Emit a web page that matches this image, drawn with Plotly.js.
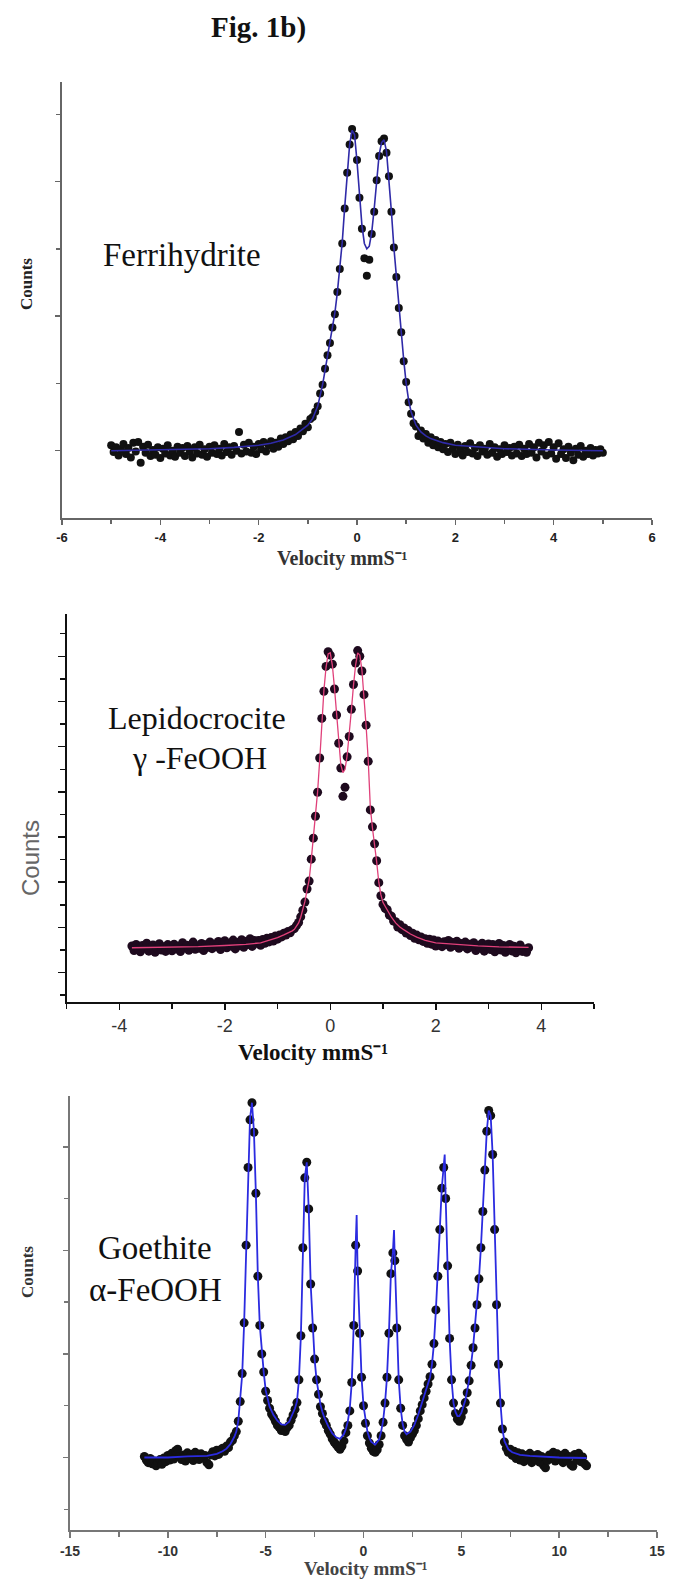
<!DOCTYPE html>
<html>
<head>
<meta charset="utf-8">
<script src="https://cdn.plot.ly/plotly-3.0.1.min.js"></script>
<style>
html,body{margin:0;padding:0;background:#fff;}
#chart{width:673px;height:1580px;}
</style>
</head>
<body>
<div id="chart"></div>
<script>
// ---------------- Panel 1: Ferrihydrite ----------------
const velocity1 = [
-5.00,-4.95,-4.90,-4.85,-4.80,-4.75,-4.70,-4.65,-4.60,-4.55,-4.50,-4.45,-4.40,-4.35,-4.30,-4.25,-4.20,-4.15,-4.10,-4.05,
-4.00,-3.95,-3.90,-3.85,-3.80,-3.75,-3.70,-3.65,-3.60,-3.55,-3.50,-3.45,-3.40,-3.35,-3.30,-3.25,-3.20,-3.15,-3.10,-3.05,
-3.00,-2.95,-2.90,-2.85,-2.80,-2.75,-2.70,-2.65,-2.60,-2.55,-2.50,-2.45,-2.40,-2.35,-2.30,-2.25,-2.20,-2.15,-2.10,-2.05,
-2.00,-1.95,-1.90,-1.85,-1.80,-1.75,-1.70,-1.65,-1.60,-1.55,-1.50,-1.45,-1.40,-1.35,-1.30,-1.25,-1.20,-1.15,-1.10,-1.05,
-1.00,-0.95,-0.90,-0.85,-0.80,-0.75,-0.70,-0.65,-0.60,-0.55,-0.50,-0.45,-0.40,-0.35,-0.30,-0.25,-0.20,-0.15,-0.10,-0.05,
0.00,0.05,0.10,0.15,0.20,0.25,0.30,0.35,0.40,0.45,0.50,0.55,0.60,0.65,0.70,0.75,0.80,0.85,0.90,0.95,
1.00,1.05,1.10,1.15,1.20,1.25,1.30,1.35,1.40,1.45,1.50,1.55,1.60,1.65,1.70,1.75,1.80,1.85,1.90,1.95,
2.00,2.05,2.10,2.15,2.20,2.25,2.30,2.35,2.40,2.45,2.50,2.55,2.60,2.65,2.70,2.75,2.80,2.85,2.90,2.95,
3.00,3.05,3.10,3.15,3.20,3.25,3.30,3.35,3.40,3.45,3.50,3.55,3.60,3.65,3.70,3.75,3.80,3.85,3.90,3.95,
4.00,4.05,4.10,4.15,4.20,4.25,4.30,4.35,4.40,4.45,4.50,4.55,4.60,4.65,4.70,4.75,4.80,4.85,4.90,4.95,
5.00];
const counts1 = [
1.08,0.98,1.05,0.93,1.02,1.10,0.95,1.04,0.90,1.12,0.99,1.13,0.82,1.06,0.97,1.09,0.92,1.01,0.94,1.05,
0.89,1.03,0.96,1.08,0.93,1.00,0.91,1.06,0.97,1.04,0.92,1.07,0.99,0.90,1.05,0.96,1.09,0.94,1.02,0.91,
1.06,0.97,1.08,0.95,1.03,0.93,1.10,0.98,1.05,0.94,1.07,1.00,1.28,0.96,1.09,0.99,1.12,0.97,1.06,0.95,
1.10,1.02,1.13,0.99,1.08,1.14,1.03,1.12,1.06,1.18,1.10,1.20,1.14,1.24,1.17,1.28,1.22,1.33,1.29,1.40,
1.35,1.47,1.50,1.58,1.66,1.85,1.98,2.22,2.42,2.60,2.83,3.03,3.36,3.70,4.08,4.60,5.13,5.55,5.78,5.68,
5.32,4.76,4.30,3.86,3.60,3.84,4.22,4.55,5.02,5.38,5.60,5.64,5.43,5.08,4.55,4.02,3.58,3.12,2.76,2.33,
2.02,1.72,1.55,1.41,1.36,1.22,1.30,1.18,1.25,1.12,1.20,1.08,1.16,1.05,1.13,1.02,1.10,0.98,1.12,1.03,
0.95,1.09,1.01,0.93,1.07,0.98,1.11,0.96,1.04,0.92,1.08,0.99,1.03,0.94,1.10,0.97,1.05,0.91,1.02,0.95,
1.08,0.98,1.04,0.93,1.06,0.96,1.09,0.92,1.03,0.95,1.10,0.97,1.05,0.90,1.12,0.99,1.08,0.93,1.13,0.96,
1.05,0.88,1.11,0.95,1.02,0.89,1.06,0.97,0.86,1.03,0.94,1.07,0.91,1.00,0.95,1.04,0.93,1.01,0.96,1.02,
0.97];
const fitVelocity1 = [-5.0,-4.0,-3.0,-2.5,-2.0,-1.75,-1.5,-1.25,-1.0,-0.9,
-0.8,-0.7,-0.6,-0.5,-0.45,-0.4,-0.35,-0.3,-0.25,-0.2,
-0.15,-0.1,-0.05,0.0,0.05,0.1,0.15,0.2,0.25,0.3,
0.35,0.4,0.45,0.5,0.55,0.6,0.65,0.7,0.75,0.8,
0.85,0.9,0.95,1.0,1.05,1.1,1.2,1.3,1.4,1.5,
1.75,2.0,2.5,3.0,4.0,5.0];
const fit1 = [1.00,1.01,1.03,1.05,1.08,1.11,1.16,1.24,1.38,1.48,
1.66,1.98,2.40,2.82,3.05,3.35,3.70,4.10,4.62,5.15,
5.55,5.76,5.70,5.30,4.80,4.35,4.08,4.00,4.04,4.25,
4.60,5.05,5.40,5.58,5.62,5.45,5.05,4.55,4.02,3.58,
3.15,2.78,2.35,2.00,1.75,1.58,1.38,1.28,1.22,1.18,
1.12,1.08,1.05,1.03,1.01,1.00];

// ---------------- Panel 2: Lepidocrocite ----------------
const velocity2 = [
-3.76,-3.72,-3.68,-3.64,-3.60,-3.56,-3.52,-3.48,-3.44,-3.40,-3.36,-3.32,-3.28,-3.24,-3.20,-3.16,-3.12,-3.08,-3.04,-3.00,
-2.96,-2.92,-2.88,-2.84,-2.80,-2.76,-2.72,-2.68,-2.64,-2.60,-2.56,-2.52,-2.48,-2.44,-2.40,-2.36,-2.32,-2.28,-2.24,-2.20,
-2.16,-2.12,-2.08,-2.04,-2.00,-1.96,-1.92,-1.88,-1.84,-1.80,-1.76,-1.72,-1.68,-1.64,-1.60,-1.56,-1.52,-1.48,-1.44,-1.40,
-1.36,-1.32,-1.28,-1.24,-1.20,-1.16,-1.12,-1.08,-1.04,-1.00,-0.96,-0.92,-0.88,-0.84,-0.80,-0.76,-0.72,-0.68,-0.64,-0.60,
-0.56,-0.52,-0.48,-0.44,-0.40,-0.36,-0.32,-0.28,-0.24,-0.20,-0.16,-0.12,-0.08,-0.04,0.00,0.04,0.08,0.12,0.16,0.20,
0.24,0.28,0.32,0.36,0.40,0.44,0.48,0.52,0.56,0.60,0.64,0.68,0.72,0.76,0.80,0.84,0.88,0.92,0.96,1.00,
1.04,1.08,1.12,1.16,1.20,1.24,1.28,1.32,1.36,1.40,1.44,1.48,1.52,1.56,1.60,1.64,1.68,1.72,1.76,1.80,
1.84,1.88,1.92,1.96,2.00,2.04,2.08,2.12,2.16,2.20,2.24,2.28,2.32,2.36,2.40,2.44,2.48,2.52,2.56,2.60,
2.64,2.68,2.72,2.76,2.80,2.84,2.88,2.92,2.96,3.00,3.04,3.08,3.12,3.16,3.20,3.24,3.28,3.32,3.36,3.40,
3.44,3.48,3.52,3.56,3.60,3.64,3.68,3.72,3.76];
const counts2 = [
2.18,1.98,2.25,2.04,1.92,2.20,2.08,2.30,1.95,2.12,2.22,1.90,2.06,2.28,2.00,2.15,1.94,2.24,2.10,1.97,
2.26,2.05,2.17,1.93,2.32,2.09,2.21,1.99,2.14,2.35,2.03,2.19,2.08,2.29,1.98,2.23,2.12,2.36,2.06,2.27,
2.15,2.38,2.02,2.25,2.41,2.10,2.30,2.18,2.44,2.05,2.33,2.20,2.46,2.12,2.38,2.25,2.50,2.16,2.42,2.30,
2.42,2.21,2.47,2.30,2.52,2.36,2.55,2.40,2.62,2.48,2.66,2.58,2.74,2.66,2.82,2.76,2.90,2.95,3.08,3.22,
3.47,3.76,4.12,4.70,5.05,6.02,6.95,7.92,8.98,10.50,12.25,13.45,14.55,15.20,15.05,14.65,13.55,12.40,11.15,10.05,
8.80,9.20,10.55,11.45,12.65,13.75,14.70,15.25,15.00,14.35,13.30,11.95,10.35,8.20,7.45,6.70,5.95,4.98,4.40,4.02,
3.85,3.78,3.55,3.50,3.28,3.25,3.02,3.12,2.90,2.98,2.75,2.86,2.64,2.74,2.52,2.66,2.45,2.58,2.38,2.50,
2.30,2.48,2.26,2.44,2.18,2.40,2.31,2.15,2.37,2.24,2.42,2.12,2.33,2.20,2.39,2.08,2.29,2.17,2.35,2.05,
2.26,2.13,2.32,1.98,2.21,2.09,2.30,1.95,2.18,2.27,2.02,2.24,1.92,2.15,2.29,2.00,2.20,1.90,2.12,2.25,
1.96,2.17,1.88,2.08,2.22,1.94,2.05,1.90,2.10];
const fitVelocity2 = [-3.76,-3.0,-2.5,-2.0,-1.6,-1.32,-1.2,-1.0,-0.88,-0.8,
-0.72,-0.68,-0.64,-0.6,-0.56,-0.52,-0.48,-0.44,-0.4,-0.36,
-0.32,-0.28,-0.24,-0.2,-0.16,-0.12,-0.08,-0.04,0.0,0.04,
0.08,0.12,0.16,0.2,0.24,0.28,0.32,0.36,0.4,0.44,
0.48,0.52,0.56,0.6,0.64,0.68,0.72,0.76,0.8,0.84,
0.88,0.92,0.96,1.0,1.08,1.16,1.24,1.32,1.4,1.52,
1.64,1.8,2.0,2.4,2.8,3.2,3.76];
const fit2 = [2.10,2.12,2.15,2.20,2.25,2.32,2.40,2.55,2.67,2.75,
2.85,2.92,3.05,3.20,3.45,3.75,4.15,4.65,5.10,6.00,
6.90,7.90,9.00,10.40,12.20,13.50,14.50,15.10,15.15,14.60,
13.60,12.40,11.20,10.20,9.85,10.00,10.60,11.50,12.60,13.70,
14.60,15.15,15.05,14.40,13.30,11.90,10.40,8.30,7.40,6.75,
5.90,5.00,4.45,4.10,3.75,3.45,3.20,3.02,2.89,2.71,
2.57,2.43,2.32,2.24,2.18,2.14,2.12];

// ---------------- Panel 3: Goethite ----------------
const velocity3 = [
-11.2,-11.1,-11.0,-10.9,-10.8,-10.7,-10.6,-10.5,-10.4,-10.3,-10.2,-10.1,-10.0,-9.9,-9.8,-9.7,-9.6,-9.5,-9.4,-9.3,
-9.2,-9.1,-9.0,-8.9,-8.8,-8.7,-8.6,-8.5,-8.4,-8.3,-8.2,-8.1,-8.0,-7.9,-7.8,-7.7,-7.6,-7.5,-7.4,-7.3,
-7.2,-7.1,-7.0,-6.9,-6.8,-6.7,-6.6,-6.5,-6.4,-6.3,-6.2,-6.1,-6.0,-5.9,-5.8,-5.7,-5.6,-5.5,-5.4,-5.3,
-5.2,-5.1,-5.0,-4.9,-4.8,-4.7,-4.6,-4.5,-4.4,-4.3,-4.2,-4.1,-4.0,-3.9,-3.8,-3.7,-3.6,-3.5,-3.4,-3.3,
-3.2,-3.1,-3.0,-2.9,-2.8,-2.7,-2.6,-2.5,-2.4,-2.3,-2.2,-2.1,-2.0,-1.9,-1.8,-1.7,-1.6,-1.5,-1.4,-1.3,
-1.2,-1.1,-1.0,-0.9,-0.8,-0.7,-0.6,-0.5,-0.4,-0.3,-0.2,-0.1,0.0,0.1,0.2,0.3,0.4,0.5,0.6,0.7,
0.8,0.9,1.0,1.1,1.2,1.3,1.4,1.5,1.6,1.7,1.8,1.9,2.0,2.1,2.2,2.3,2.4,2.5,2.6,2.7,
2.8,2.9,3.0,3.1,3.2,3.3,3.4,3.5,3.6,3.7,3.8,3.9,4.0,4.1,4.2,4.3,4.4,4.5,4.6,4.7,
4.8,4.9,5.0,5.1,5.2,5.3,5.4,5.5,5.6,5.7,5.8,5.9,6.0,6.1,6.2,6.3,6.4,6.5,6.6,6.7,
6.8,6.9,7.0,7.1,7.2,7.3,7.4,7.5,7.6,7.7,7.8,7.9,8.0,8.1,8.2,8.3,8.4,8.5,8.6,8.7,
8.8,8.9,9.0,9.1,9.2,9.3,9.4,9.5,9.6,9.7,9.8,9.9,10.0,10.1,10.2,10.3,10.4,10.5,10.6,10.7,
10.8,10.9,11.0,11.1,11.2,11.3,11.4];
const counts3 = [
1.02,0.95,0.90,0.98,0.88,0.93,0.84,0.91,0.96,0.87,0.99,0.92,1.04,0.95,1.08,0.97,1.13,1.16,1.02,0.96,
1.05,0.93,1.09,0.98,1.06,0.94,1.10,1.01,0.96,1.07,0.99,1.04,0.90,0.86,1.05,1.11,1.03,1.14,1.06,1.15,
1.18,1.12,1.22,1.19,1.30,1.33,1.42,1.50,1.70,2.08,2.62,3.60,5.10,6.60,7.52,7.85,7.28,6.10,4.50,3.55,
3.00,2.65,2.28,2.10,1.95,1.84,1.78,1.70,1.62,1.58,1.52,1.55,1.50,1.58,1.62,1.72,1.82,1.93,2.06,2.50,
3.35,5.05,6.40,6.70,5.80,4.35,3.50,2.90,2.50,2.22,1.98,1.85,1.70,1.62,1.52,1.45,1.36,1.30,1.25,1.20,
1.16,1.22,1.32,1.48,1.62,1.90,2.45,3.55,5.10,4.60,3.40,2.55,2.00,1.66,1.42,1.28,1.18,1.12,1.10,1.15,
1.25,1.42,1.68,2.05,2.55,3.40,4.55,4.95,4.80,3.50,2.50,1.95,1.62,1.42,1.35,1.30,1.38,1.45,1.52,1.62,
1.75,1.90,2.02,2.15,2.28,2.42,2.56,2.80,3.20,3.85,4.50,5.40,6.20,6.60,6.00,4.70,3.30,2.50,2.05,1.85,
1.74,1.70,1.78,1.90,2.06,2.25,2.48,2.78,3.12,3.50,3.95,4.45,5.05,5.75,6.55,7.30,7.70,7.60,6.85,5.40,
3.95,2.80,2.05,1.55,1.30,1.18,1.10,1.16,1.04,1.12,0.98,1.09,0.95,1.07,0.92,1.04,0.97,1.08,0.90,1.03,
0.96,1.06,0.91,1.02,0.85,0.80,0.94,1.05,0.98,1.10,0.93,1.07,0.96,1.04,0.90,1.08,0.94,1.02,0.86,0.83,
1.06,0.95,1.08,0.92,1.01,0.88,0.84];
const fitVelocity3 = [
-11.2,-10.0,-9.0,-8.0,-7.5,-7.2,-7.0,-6.8,-6.6,-6.5,
-6.4,-6.3,-6.2,-6.1,-6.0,-5.9,-5.8,-5.7,-5.6,-5.5,
-5.4,-5.3,-5.2,-5.1,-5.0,-4.9,-4.8,-4.6,-4.4,-4.2,
-4.0,-3.8,-3.6,-3.5,-3.4,-3.3,-3.2,-3.1,-3.0,-2.9,
-2.8,-2.7,-2.6,-2.5,-2.4,-2.3,-2.2,-2.1,-2.0,-1.8,
-1.6,-1.4,-1.2,-1.0,-0.9,-0.8,-0.7,-0.6,-0.5,-0.4,
-0.35,-0.3,-0.2,-0.1,0.0,0.1,0.2,0.3,0.4,0.6,
0.8,0.9,1.0,1.1,1.2,1.3,1.4,1.5,1.56,1.6,
1.7,1.8,1.9,2.0,2.1,2.2,2.4,2.6,2.8,3.0,
3.2,3.4,3.5,3.6,3.7,3.8,3.9,4.0,4.1,4.15,
4.2,4.3,4.4,4.5,4.6,4.7,4.8,4.9,5.0,5.2,
5.4,5.6,5.8,5.9,6.0,6.1,6.2,6.3,6.4,6.5,
6.6,6.7,6.8,6.9,7.0,7.1,7.2,7.4,7.6,8.0,
8.5,9.0,10.0,11.4];
const fit3 = [
1.00,1.00,1.02,1.03,1.07,1.12,1.17,1.26,1.40,1.50,
1.70,2.10,2.60,3.60,5.10,6.60,7.55,7.85,7.30,6.10,
4.50,3.55,3.00,2.65,2.30,2.12,1.98,1.82,1.71,1.64,
1.63,1.69,1.86,1.95,2.08,2.50,3.35,5.05,6.40,6.70,
5.80,4.35,3.50,2.90,2.50,2.25,2.02,1.88,1.77,1.60,
1.47,1.39,1.36,1.45,1.55,1.70,1.95,2.45,3.55,5.10,
5.68,4.60,3.40,2.55,2.00,1.70,1.50,1.38,1.30,1.25,
1.35,1.50,1.70,2.05,2.55,3.40,4.55,4.95,5.39,4.80,
3.50,2.50,1.95,1.65,1.50,1.45,1.50,1.63,1.83,2.08,
2.30,2.55,2.80,3.20,3.85,4.50,5.40,6.20,6.60,6.85,
6.00,4.70,3.30,2.50,2.05,1.88,1.80,1.80,1.86,2.10,
2.50,3.12,3.95,4.45,5.05,5.75,6.55,7.30,7.70,7.60,
6.85,5.40,3.95,2.80,2.05,1.55,1.32,1.16,1.10,1.05,
1.03,1.02,1.00,0.99];

// Tick labels
const ticks1 = [-6,-4,-2,0,2,4,6];
const tickText1 = ['-6','-4','-2','0','2','4','6'];
const ticks2 = [-4,-2,0,2,4];
const tickText2 = ['-4','-2','0','2','4'];
const ticks3 = [-15,-10,-5,0,5,10,15];
const tickText3 = ['-15','-10','-5','0','5','10','15'];

// ---------------- Layout helpers ----------------
const W = 673, H = 1580;
const SERIF = "'Liberation Serif', 'Times New Roman', serif";
const SANS = "'Liberation Sans', Arial, sans-serif";
const VEL = 'Velocity mmS\u207B\u00B9';
function dx(a, b){ return [a / W, b / W]; }
function dy(top, bottom){ return [1 - bottom / H, 1 - top / H]; }
function ann(text, px, py, size, family, color, angle, weight){
  return {text: text, x: px / W, y: 1 - py / H, xref: 'paper', yref: 'paper',
    showarrow: false, xanchor: 'center', yanchor: 'middle',
    textangle: angle || 0,
    font: {family: family, size: size, color: color || '#111', weight: weight || 'normal'}};
}
function xax(domain, range, tv, tt, minorVals, lineColor, fontSpec, standoff, tl){
  return {domain: domain, range: range, showline: true, linewidth: 2,
    linecolor: lineColor, ticks: 'outside', ticklen: tl, tickwidth: 1.5, tickcolor: lineColor,
    tickmode: 'array', tickvals: tv, ticktext: tt, tickfont: fontSpec,
    ticklabelstandoff: standoff,
    minor: {tickmode: 'array', tickvals: minorVals, ticks: 'outside', ticklen: tl - 1, tickwidth: 1.5, tickcolor: lineColor},
    showgrid: false, zeroline: false, fixedrange: true};
}
function yax(domain, range, majorVals, minorVals, lineColor, tl, mtl){
  return {domain: domain, range: range, showline: true, linewidth: 2, linecolor: lineColor,
    ticks: 'outside', ticklen: tl, tickwidth: 1.5, tickcolor: lineColor,
    tickmode: 'array', tickvals: majorVals, showticklabels: false,
    minor: {tickmode: 'array', tickvals: minorVals, ticks: 'outside', ticklen: mtl, tickwidth: 1.5, tickcolor: lineColor},
    showgrid: false, zeroline: false, fixedrange: true};
}

const traces = [
  {x: velocity1, y: counts1, xaxis: 'x', yaxis: 'y', mode: 'markers', type: 'scatter',
   marker: {color: '#111', size: 8}},
  {x: fitVelocity1, y: fit1, xaxis: 'x', yaxis: 'y', mode: 'lines', type: 'scatter',
   line: {color: '#2f2aa8', width: 1.6}},
  {x: velocity2, y: counts2, xaxis: 'x2', yaxis: 'y2', mode: 'markers', type: 'scatter',
   marker: {color: '#1e0a1e', size: 9}},
  {x: fitVelocity2, y: fit2, xaxis: 'x2', yaxis: 'y2', mode: 'lines', type: 'scatter',
   line: {color: '#e0407a', width: 1.3}},
  {x: velocity3, y: counts3, xaxis: 'x3', yaxis: 'y3', mode: 'markers', type: 'scatter',
   marker: {color: '#111', size: 9}},
  {x: fitVelocity3, y: fit3, xaxis: 'x3', yaxis: 'y3', mode: 'lines', type: 'scatter',
   line: {color: '#2b2be0', width: 1.8}}
];

const layout = {
  width: W, height: H, margin: {l: 0, r: 0, t: 0, b: 0},
  paper_bgcolor: '#fff', plot_bgcolor: 'rgba(0,0,0,0)', showlegend: false,
  xaxis: Object.assign(xax(dx(62, 652), [-6, 6], ticks1, tickText1, [-5,-3,-1,1,3,5], '#666',
      {family: SANS, size: 13, color: '#222', weight: 'bold'}, 1, 5), {anchor: 'y'}),
  yaxis: Object.assign(yax(dy(82, 518), [0, 6.48], [1,3,5], [2,4,6], '#666', 5, 4), {anchor: 'x'}),
  xaxis2: Object.assign(xax(dx(66.5, 594), [-5, 5], ticks2, tickText2, [-5,-3,-1,1,3,5], '#111',
      {family: SANS, size: 18, color: '#333'}, 0, 6), {anchor: 'y2'}),
  yaxis2: Object.assign(yax(dy(614, 1002), [-0.3, 16.87], [1,3,5,7,9,11,13,15], [0,2,4,6,8,10,12,14,16], '#111', 7, 5), {anchor: 'x2'}),
  xaxis3: Object.assign(xax(dx(70, 657), [-15, 15], ticks3, tickText3, [-12.5,-7.5,-2.5,2.5,7.5,12.5], '#777',
      {family: SANS, size: 14, color: '#333', weight: 'bold'}, 1, 6), {anchor: 'y3'}),
  yaxis3: Object.assign(yax(dy(1096, 1530), [-0.4, 7.98], [1,3,5,7], [0,2,4,6], '#777', 5, 4), {anchor: 'x3'}),
  annotations: [
    ann('Fig. 1b)', 258, 28, 29, SERIF, '#111', 0, 'bold'),
    ann('Ferrihydrite', 182, 255, 33, SERIF, '#111'),
    ann('Counts', 27, 284, 17, SERIF, '#222', -90, 'bold'),
    ann(VEL, 342, 558, 20, SERIF, '#333', 0, 'bold'),
    ann('Lepidocrocite', 197, 718, 32, SERIF, '#111'),
    ann('\u03b3 -FeOOH', 199, 758, 32, SERIF, '#111'),
    ann('Counts', 30, 858, 24, SANS, '#666', -90),
    ann(VEL, 313, 1052, 23, SERIF, '#111', 0, 'bold'),
    ann('Goethite', 155, 1248, 33, SERIF, '#111'),
    ann('\u03b1-FeOOH', 155, 1290, 33, SERIF, '#111'),
    ann('Counts', 27, 1272, 17, SERIF, '#333', -90, 'bold'),
    ann(VEL, 365, 1568, 19, SERIF, '#444', 0, 'bold')
  ]
};

Plotly.newPlot('chart', traces, layout, {staticPlot: true, displayModeBar: false});
</script>
</body>
</html>
